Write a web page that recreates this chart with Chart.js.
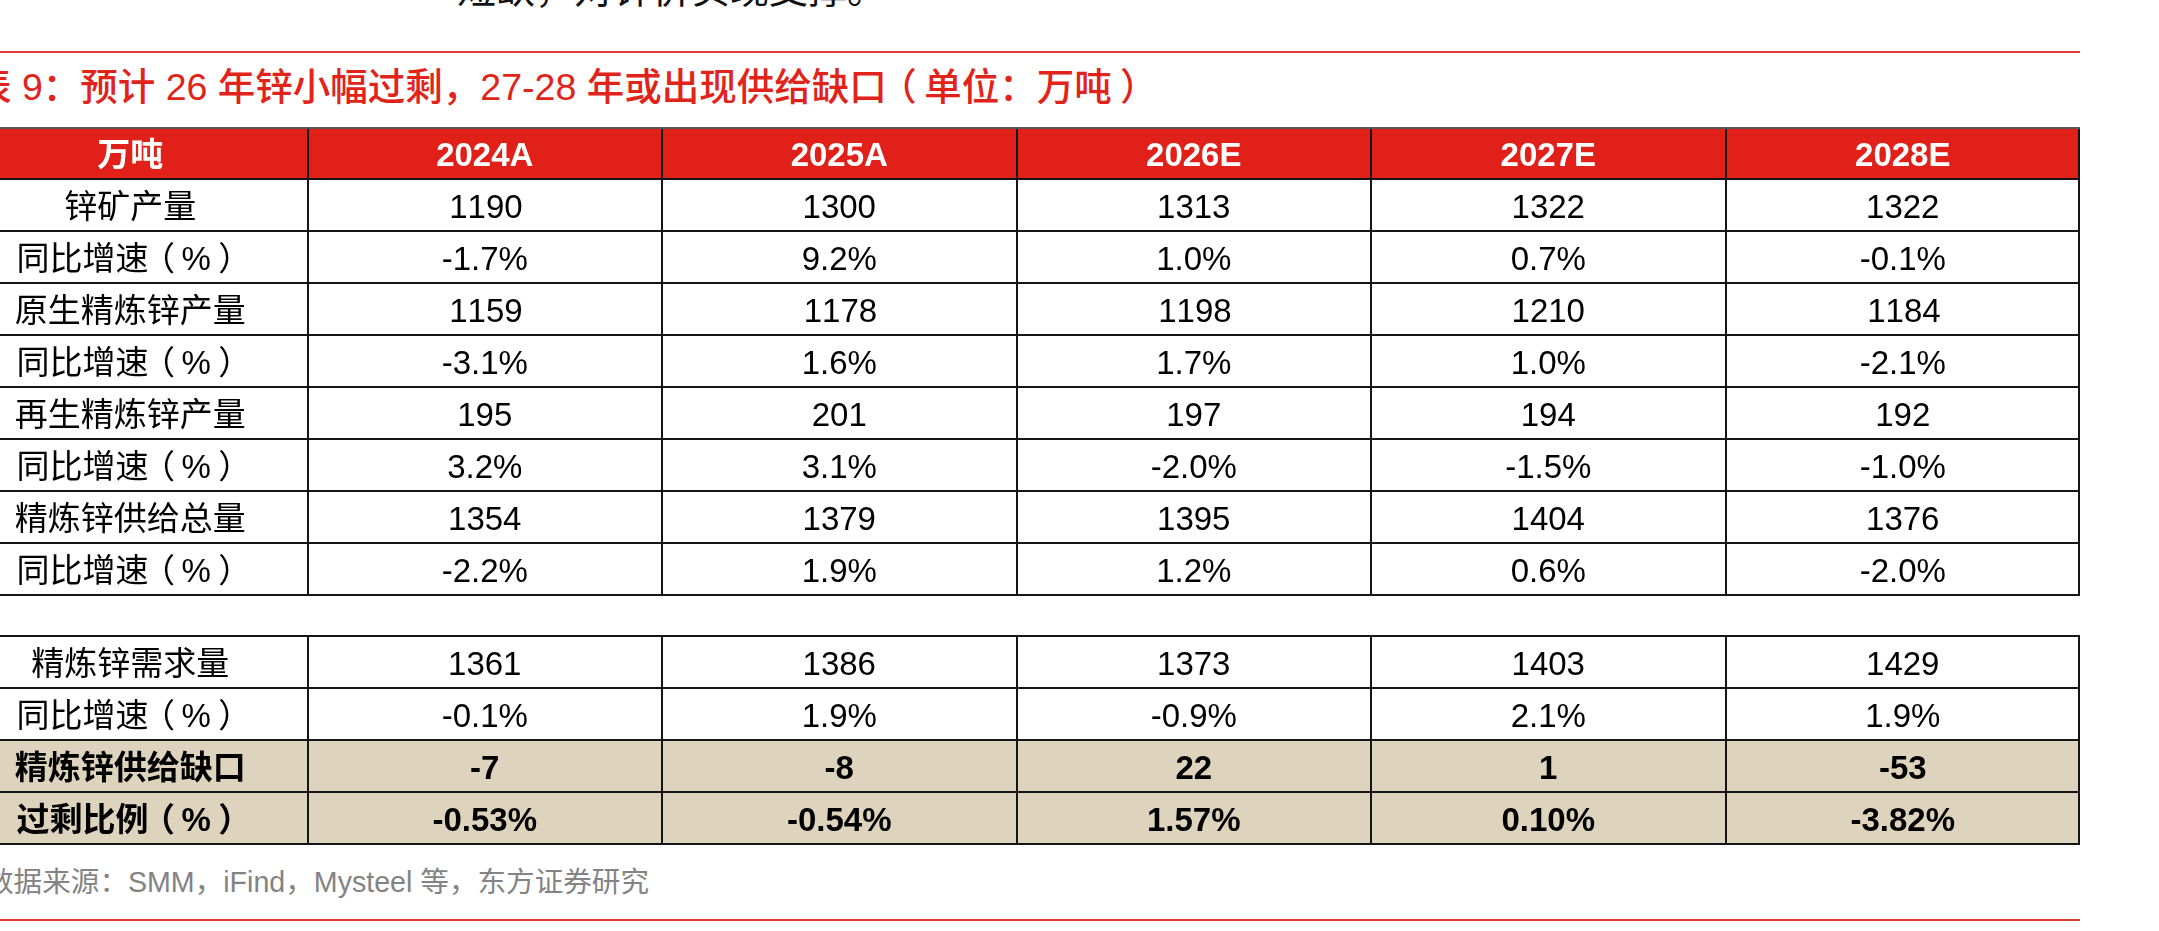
<!DOCTYPE html>
<html lang="zh-CN">
<head>
<meta charset="utf-8">
<title>锌供需平衡表</title>
<script src="https://cdn.jsdelivr.net/npm/chart.js@4.4.1/dist/chart.umd.min.js"></script>
<style>
html,body{margin:0;padding:0;background:#fff;}
body{width:2159px;height:931px;overflow:hidden;position:relative;font-family:"Liberation Sans","Noto Sans CJK SC",sans-serif;}
.t{position:absolute;white-space:nowrap;margin:0;}
#lead{left:457px;top:-30px;font-size:39px;line-height:40px;color:#111;}
.rule{position:absolute;left:0;width:2080px;height:2px;background:#e4383c;}
#title{left:-26px;top:65px;font-size:37.5px;line-height:44px;color:#e2231a;font-weight:500;}
#title .po{position:relative;left:-0.2em;}
#title .pc{position:relative;left:0.22em;}
#source{left:-15px;top:865px;font-size:28.6px;line-height:34px;color:#838383;}
#wrap{position:absolute;left:-47px;top:125px;width:2129px;height:721px;}
</style>
</head>
<body>
<div class="t" id="lead">短缺，对锌价实现支撑。</div>
<div class="rule" style="top:51px"></div>
<div class="t" id="title">表 9：预计 26 年锌小幅过剩，27-28 年或出现供给缺口<span class="po">（</span>单位：万吨<span class="pc">）</span></div>
<div id="wrap"><canvas id="c"></canvas></div>
<div class="t" id="source">数据来源：SMM，iFind，Mysteel 等，东方证券研究</div>
<div class="rule" style="top:919px"></div>
<script>
// ---- data ----
const columns = ['万吨', '2024A', '2025A', '2026E', '2027E', '2028E'];
const zincOre        = ['1190', '1300', '1313', '1322', '1322'];
const zincOreYoY     = ['-1.7%', '9.2%', '1.0%', '0.7%', '-0.1%'];
const primaryZinc    = ['1159', '1178', '1198', '1210', '1184'];
const primaryYoY     = ['-3.1%', '1.6%', '1.7%', '1.0%', '-2.1%'];
const secondaryZinc  = ['195', '201', '197', '194', '192'];
const secondaryYoY   = ['3.2%', '3.1%', '-2.0%', '-1.5%', '-1.0%'];
const totalSupply    = ['1354', '1379', '1395', '1404', '1376'];
const totalSupplyYoY = ['-2.2%', '1.9%', '1.2%', '0.6%', '-2.0%'];
const demand         = ['1361', '1386', '1373', '1403', '1429'];
const demandYoY      = ['-0.1%', '1.9%', '-0.9%', '2.1%', '1.9%'];
const supplyGap      = ['-7', '-8', '22', '1', '-53'];
const surplusRatio   = ['-0.53%', '-0.54%', '1.57%', '0.10%', '-3.82%'];

const rowLabels = ['锌矿产量', '同比增速（%）', '原生精炼锌产量', '同比增速（%）', '再生精炼锌产量',
  '同比增速（%）', '精炼锌供给总量', '同比增速（%）', null, '精炼锌需求量', '同比增速（%）',
  '精炼锌供给缺口', '过剩比例（%）'];
const rowValues = [zincOre, zincOreYoY, primaryZinc, primaryYoY, secondaryZinc, secondaryYoY,
  totalSupply, totalSupplyYoY, null, demand, demandYoY, supplyGap, surplusRatio];
const boldRows = ['精炼锌供给缺口', '过剩比例（%）'];

// ---- layout (not data) ----
const ROW_H = 52, GAP_H = 41;
const RED = '#e1201a', BEIGE = '#ded4bd', LINE = '#151515';
const FONT = '"Liberation Sans", "Noto Sans CJK SC", sans-serif';
const FS = 33;

// row bands (header first)
const bands = [];
let acc = 0;
bands.push({kind: 'header', top: acc, bottom: acc + ROW_H, label: columns[0], cells: columns.slice(1)});
acc += ROW_H;
rowLabels.forEach((lab, i) => {
  if (lab === null) { bands.push({kind: 'gap', top: acc, bottom: acc + GAP_H}); acc += GAP_H; }
  else {
    bands.push({kind: boldRows.includes(lab) ? 'bold' : 'body', top: acc, bottom: acc + ROW_H, label: lab, cells: rowValues[i]});
    acc += ROW_H;
  }
});
const TABLE_H = acc;

const headerBand = bands[0];
const boldBands = bands.filter(b => b.kind === 'bold');

const datasets = [
  {label: '表头', data: columns.map(() => [headerBand.top, headerBand.bottom]), backgroundColor: RED},
  ...boldBands.map(b => ({label: b.label, data: columns.map(() => [b.top, b.bottom]), backgroundColor: BEIGE}))
].map(d => Object.assign(d, {barPercentage: 1, categoryPercentage: 1, borderWidth: 0, borderSkipped: false, grouped: false}));

// draws a centred string; full-width brackets are drawn centred in their em box
function drawText(ctx, str, cx, by) {
  const chars = [...str];
  const total = ctx.measureText(str).width;
  let cur = cx - total / 2;
  ctx.textAlign = 'left';
  chars.forEach(ch => {
    const w = ctx.measureText(ch).width;
    const off = ch === '（' ? -0.2 * FS : ch === '）' ? 0.22 * FS : 0;
    ctx.fillText(ch, cur + off, by);
    cur += w;
  });
}

const tablePlugin = {
  id: 'tableGrid',
  afterDatasetsDraw(chart) {
    const {ctx, scales: {x, y}} = chart;
    const n = columns.length;
    const half = (x.getPixelForValue(1) - x.getPixelForValue(0)) / 2;
    const left = x.getPixelForValue(0) - half;
    const right = x.getPixelForValue(n - 1) + half;
    ctx.save();
    ctx.lineWidth = 2;
    // vertical lines (skip gap row)
    ctx.strokeStyle = LINE;
    bands.forEach(b => {
      if (b.kind === 'gap') return;
      const t = y.getPixelForValue(b.top), bt = y.getPixelForValue(b.bottom);
      for (let i = 0; i <= n; i++) {
        const px = Math.round(i === n ? right - 1 : x.getPixelForValue(i) - half);
        ctx.beginPath(); ctx.moveTo(px, t); ctx.lineTo(px, bt); ctx.stroke();
      }
    });
    // horizontal lines
    const edges = new Set();
    bands.forEach(b => { edges.add(b.top); edges.add(b.bottom); });
    [...edges].forEach(v => {
      const py = Math.round(y.getPixelForValue(v)) + (v === 0 ? 1 : 0);
      ctx.strokeStyle = v === 0 ? '#555' : LINE;
      ctx.beginPath(); ctx.moveTo(left, py); ctx.lineTo(right, py); ctx.stroke();
    });
    // texts
    ctx.textBaseline = 'alphabetic';
    bands.forEach(b => {
      if (b.kind === 'gap') return;
      const cy = y.getPixelForValue((b.top + b.bottom) / 2) + 0.37 * FS + 1;
      ctx.font = (b.kind === 'body' ? '' : 'bold ') + FS + 'px ' + FONT;
      ctx.fillStyle = b.kind === 'header' ? '#ffffff' : '#000000';
      drawText(ctx, b.label, x.getPixelForValue(0), cy);
      b.cells.forEach((v, j) => drawText(ctx, v, x.getPixelForValue(j + 1), cy));
    });
    ctx.restore();
  }
};

new Chart(document.getElementById('c'), {
  type: 'bar',
  data: {labels: columns, datasets},
  options: {
    responsive: true,
    maintainAspectRatio: false,
    animation: false,
    events: [],
    layout: {padding: {top: 2, bottom: 2, left: 0, right: 2}},
    plugins: {legend: {display: false}, tooltip: {enabled: false}, title: {display: false}},
    scales: {
      x: {type: 'category', offset: true, display: false, grid: {display: false}},
      y: {type: 'linear', min: 0, max: TABLE_H, reverse: true, display: false}
    }
  },
  plugins: [tablePlugin]
});
</script>
</body>
</html>
